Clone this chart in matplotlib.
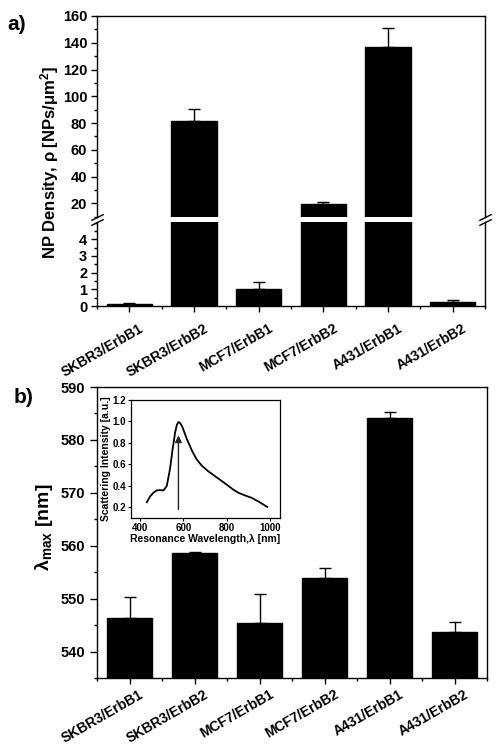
import matplotlib
matplotlib.use('Agg')
import matplotlib.pyplot as plt
import numpy as np
from matplotlib.transforms import ScaledTranslation
from matplotlib.ticker import MultipleLocator, FixedLocator

plt.rcParams['font.family'] = ['Liberation Sans', 'DejaVu Sans']
plt.rcParams['font.weight'] = 'bold'
plt.rcParams['mathtext.fontset'] = 'custom'
plt.rcParams['mathtext.rm'] = 'Liberation Sans'
plt.rcParams['mathtext.it'] = 'Liberation Sans:italic'
plt.rcParams['mathtext.bf'] = 'Liberation Sans:bold'
plt.rcParams['axes.linewidth'] = 1.0

# ---------------- data ----------------
categories = ['SKBR3/ErbB1', 'SKBR3/ErbB2', 'MCF7/ErbB1', 'MCF7/ErbB2', 'A431/ErbB1', 'A431/ErbB2']
density = [0.12, 81.8, 1.04, 19.5, 136.8, 0.26]
density_err = [0.06, 8.7, 0.42, 1.3, 14.2, 0.10]
lambda_max = [546.4, 558.6, 545.5, 554.0, 584.1, 543.7]
lambda_err = [3.9, 0.3, 5.5, 1.9, 1.2, 2.0]

inset_wl = [431, 446, 461, 477, 492, 508, 523, 538, 550, 562, 570, 577, 585, 595,
            615, 639, 660, 685, 715, 746, 777, 807, 830, 854, 885, 915, 950, 987]
inset_int = [0.247, 0.30, 0.335, 0.357, 0.36, 0.357, 0.398, 0.556, 0.74, 0.90, 0.97,
             0.995, 0.985, 0.95, 0.84, 0.73, 0.65, 0.587, 0.535, 0.49, 0.445, 0.40,
             0.365, 0.335, 0.31, 0.288, 0.25, 0.203]
peak_wl = 577

W, H = 499, 751
fig = plt.figure(figsize=(W / 100, H / 100), dpi=100)

def box(l, t, r, b):
    return [l / W, 1 - b / H, (r - l) / W, (b - t) / H]

x = np.arange(len(categories))
zeros = np.zeros(len(categories))
bar_w = 0.7

# ---------------- panel a (broken axis) ----------------
ax_up = fig.add_axes(box(97, 16, 485, 216.7))
ax_lo = fig.add_axes(box(97, 221.7, 485, 306))

for ax in (ax_up, ax_lo):
    ax.bar(x, density, width=bar_w, color='black', edgecolor='black')
    ax.errorbar(x, density, yerr=[zeros, density_err], fmt='none', ecolor='black',
                elinewidth=1, capsize=4, capthick=1)
    ax.set_xlim(-0.5, len(categories) - 0.5)

ax_up.set_ylim(10, 160)
ax_lo.set_ylim(0, 5.05)
ax_up.spines['bottom'].set_visible(False)
ax_lo.spines['top'].set_visible(False)

ax_up.yaxis.set_major_locator(FixedLocator([20, 40, 60, 80, 100, 120, 140, 160]))
ax_up.yaxis.set_minor_locator(MultipleLocator(10))
ax_lo.yaxis.set_major_locator(FixedLocator([0, 1, 2, 3, 4]))
ax_lo.yaxis.set_minor_locator(MultipleLocator(0.5))
ax_up.tick_params(axis='x', which='both', bottom=False, labelbottom=False)

for ax in (ax_up, ax_lo):
    ax.tick_params(axis='y', which='major', direction='out', length=4, width=1,
                   labelsize=10.5, pad=3)
    ax.tick_params(axis='y', which='minor', direction='out', length=2.2, width=1)

# break marks
mk = [(-1, -0.5), (1, 0.5)]
ax_up.plot([0, 1], [0, 0], transform=ax_up.transAxes, marker=mk, markersize=9,
           linestyle='none', color='k', mec='k', mew=1, clip_on=False)
ax_lo.plot([0, 1], [1, 1], transform=ax_lo.transAxes, marker=mk, markersize=9,
           linestyle='none', color='k', mec='k', mew=1, clip_on=False)

# ---------------- panel b ----------------
ax_b = fig.add_axes(box(97, 387, 487, 678.3))
ax_b.bar(x, lambda_max, width=bar_w, color='black', edgecolor='black')
ax_b.errorbar(x, lambda_max, yerr=[zeros, lambda_err], fmt='none', ecolor='black',
              elinewidth=1, capsize=4, capthick=1)
ax_b.set_xlim(-0.5, len(categories) - 0.5)
ax_b.set_ylim(535, 590)
ax_b.yaxis.set_major_locator(MultipleLocator(10))
ax_b.yaxis.set_minor_locator(MultipleLocator(5))
ax_b.tick_params(axis='y', which='major', direction='out', length=5, width=1,
                 labelsize=10.5, pad=3.5)
ax_b.tick_params(axis='y', which='minor', direction='out', length=2.2, width=1)

# x ticks and labels for bottom axes
def setup_xticks(ax, pad):
    ax.set_xticks(x)
    ax.set_xticks(np.arange(-0.5, len(categories), 1.0), minor=True)
    ax.set_xticklabels(categories, rotation=30, ha='right', va='center',
                       rotation_mode='anchor', fontsize=10, fontweight='bold')
    ax.tick_params(axis='x', which='major', direction='out', length=4.5, width=1, pad=pad)
    ax.tick_params(axis='x', which='minor', direction='out', length=2.2, width=1)
    for lab in ax.get_xticklabels():
        lab.set_transform(lab.get_transform() + ScaledTranslation(0.13, 0, fig.dpi_scale_trans))

setup_xticks(ax_lo, 11)
setup_xticks(ax_b, 6.5)

# axis labels
fig.text(50 / W, 1 - 162 / H, r'NP Density, $\mathrm{\rho}$ [NPs/$\mathrm{\mu}$m$^{\mathbf{2}}$]',
         rotation=90, ha='center', va='center', fontsize=12, fontweight='bold')
fig.text(44 / W, 1 - 527 / H, r'$\mathrm{\lambda}_{\mathbf{max}}$ [nm]',
         rotation=90, ha='center', va='center', fontsize=14, fontweight='bold')

fig.text(7 / W, 1 - 30 / H, 'a)', fontsize=15, fontweight='bold', ha='left', va='baseline')
fig.text(14 / W, 1 - 403 / H, 'b)', fontsize=15, fontweight='bold', ha='left', va='baseline')

# ---------------- inset ----------------
ax_in = fig.add_axes(box(131, 400, 280, 518))
ax_in.plot(inset_wl, inset_int, color='black', lw=1.3)
ax_in.annotate('', xy=(peak_wl, 0.87), xytext=(peak_wl, 0.18),
               arrowprops=dict(arrowstyle='-|>', color='#222222', lw=1,
                               mutation_scale=10, shrinkA=0, shrinkB=0))
ax_in.set_xlim(358, 1046)
ax_in.set_ylim(0.1, 1.2)
ax_in.xaxis.set_major_locator(MultipleLocator(200))
ax_in.yaxis.set_major_locator(FixedLocator([0.2, 0.4, 0.6, 0.8, 1.0, 1.2]))
ax_in.tick_params(direction='out', length=2, width=0.8, labelsize=7, pad=1.5)
for lab in ax_in.get_xticklabels() + ax_in.get_yticklabels():
    lab.set_fontweight('bold')
ax_in.set_xlabel('Resonance Wavelength,λ [nm]', fontsize=7.5, fontweight='bold', labelpad=0.5)
ax_in.set_ylabel('Scattering Intensity [a.u.]', fontsize=7.5, fontweight='bold', labelpad=1)
for s in ax_in.spines.values():
    s.set_linewidth(0.9)

fig.savefig('out.png', dpi=100)
